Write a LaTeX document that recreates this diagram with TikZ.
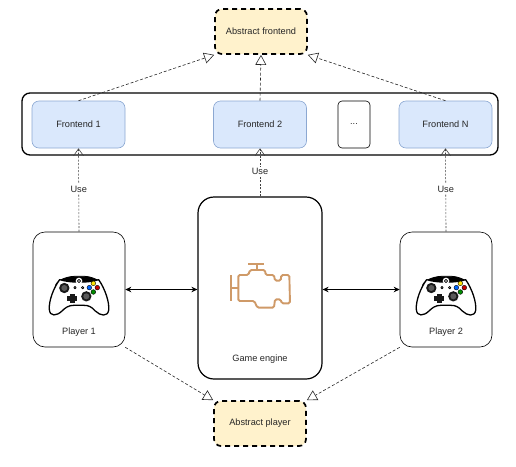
\documentclass[tikz,border=0pt]{standalone}
\usepackage{fontspec}
\setmainfont{Liberation Sans}
\usetikzlibrary{arrows.meta}
\tikzset{
  x=1pt,y=-1pt,
  every node/.style={font=\fontsize{9.2}{11}\selectfont,text=black!85,inner sep=0pt},
  boxbase/.style={rectangle,draw,minimum width=#1},
  frontbox/.style={boxbase=93pt,minimum height=47pt,rounded corners=7pt,fill=frontblue,draw=frontedge,line width=.6pt},
  abstractbox/.style={boxbase=92pt,minimum height=45pt,rounded corners=7pt,fill=abstractyellow,draw=black,line width=1.7pt,dash pattern=on 5pt off 4pt},
  playerbox/.style={boxbase=92pt,minimum height=115pt,rounded corners=12pt,fill=white,line width=.6pt},
  implements/.style={dash pattern=on 3pt off 2pt,line width=.6pt,draw=black!85,-{Triangle[open,fill=white,length=10pt,width=11pt]}},
  uses/.style={dash pattern=on 2pt off 1.5pt,line width=.6pt,draw=black!75,-{Straight Barb[length=7pt,width=10pt]}},
  biarrow/.style={line width=.9pt,{Stealth[length=6pt,width=5.5pt]}-{Stealth[length=6pt,width=5.5pt]}},
  uselabel/.style={fill=white,inner ysep=1.5pt,yshift=1pt},
  controller/.pic={
    \begin{scope}[shift={(-58.67,-71.67)},x=.3333pt,y=-.3333pt,line join=round]
      \fill[black,draw=black,line width=.8pt,rounded corners=4pt] (115,168) -- (150,156) -- (205,156) -- (240,170) -- (248,190) -- (100,190) -- cycle;
      \draw[fill=white,line width=1.3pt] (118,166) .. controls (150,176) and (205,176) .. (235,166)
        .. controls (255,195) and (268,235) .. (265,258)
        .. controls (262,278) and (240,275) .. (225,260)
        .. controls (213,247) and (205,243) .. (190,243)
        -- (160,243)
        .. controls (145,243) and (135,250) .. (125,260)
        .. controls (110,275) and (88,278) .. (87,255)
        .. controls (85,230) and (100,190) .. (118,166) -- cycle;
      \fill[white] (176,170) circle (10);
      \draw[black,line width=.8pt] (176,170) circle (5);
      \fill[black!90] (132,191) circle (15.5);
      \fill[black!65] (132,191) circle (9);
      \fill[black!90] (198,216) circle (15.5);
      \fill[black!65] (198,216) circle (9);
      \fill[black!90] (148,208) rectangle (163,236);
      \fill[black!90] (141,215) rectangle (170,229);
      \draw[line width=.8pt] (164,190) circle (3.5);
      \draw[line width=.8pt] (187,190) circle (3.5);
      \draw[black,line width=.4pt,fill=yellow!85!orange] (219,177) circle (7);
      \draw[black,line width=.4pt,fill=red!80!black] (231,190) circle (7);
      \draw[black,line width=.4pt,fill=green!55!black] (219,203) circle (7);
      \draw[black,line width=.4pt,fill=blue!60!cyan] (207,190) circle (7);
    \end{scope}
  }
}
\definecolor{frontblue}{HTML}{DAE8FC}
\definecolor{frontedge}{HTML}{8CA8D2}
\definecolor{abstractyellow}{HTML}{FFF2CC}
\definecolor{enginebrown}{HTML}{CF9A68}
\begin{document}
\begin{tikzpicture}
\useasboundingbox (0,0) rectangle (516,466);
\node[draw,rectangle,rounded corners=8pt,line width=1.3pt,minimum width=476pt,minimum height=62pt] (bar) at (260,124) {};
\node[abstractbox] (af) at (261,31.5) {};
\node at (af.center) (aft) {Abstract frontend};
\node[frontbox] (f1) at (78.5,124.5) {Frontend 1};
\node[frontbox] (f2) at (260,124.5) {Frontend 2};
\node[boxbase=32pt,minimum height=47pt,rounded corners=4pt,line width=.6pt] (dots) at (354,124.5) {...};
\node[frontbox] (fn) at (445.5,124.5) {Frontend N};
\node[playerbox] (p1) at (79,289.5) {};
\node[playerbox] (p2) at (446,289.5) {};
\node[rectangle,draw,minimum width=124pt,minimum height=182pt,rounded corners=16pt,line width=1.2pt] (ge) at (260,288) {};
\node (p1t) at (79,332) {Player 1};
\node (p2t) at (446,332) {Player 2};
\node (get) at (260,359.5) {Game engine};
\node[abstractbox] (ap) at (260,423.5) {};
\node at (ap.center) (apt) {Abstract player};
\pic at (79,296) {controller};
\pic at (446,296) {controller};
% engine icon
\begin{scope}[shift={(200,240)},x=.3333pt,y=-.3333pt,draw=enginebrown,line width=1.9pt,rounded corners=1.5pt]
  \draw (93,105) -- (93,183);
  \draw (93,143) -- (115,143);
  \draw (115,105) -- (145,105) -- (150,90) -- (195,90) -- (197,105) -- (222,105) -- (225,122) -- (242,122) -- (244,105) -- (268,105) -- (270,190) -- (245,190) -- (242,178) -- (225,178) -- (222,203) -- (172,203) -- (163,183) -- (115,183) -- cycle;
  \draw (145,72) -- (192,72);
  \draw (170,72) -- (170,90);
\end{scope}
\draw[implements] (f1.north) -- (af.south west);
\draw[implements] (f2.north) -- (af.south);
\draw[implements] (fn.north) -- (af.south east);
\draw[uses] (p1.north) -- node[uselabel] (u1) {Use} (f1.south);
\draw[uses] (ge.north) -- node[uselabel] (u2) {Use} (f2.south);
\draw[uses] (p2.north) -- node[uselabel] (u3) {Use} (fn.south);
\draw[biarrow] (p1.east) -- (ge.west |- p1.east);
\draw[biarrow] (p2.west) -- (ge.east |- p2.west);
\draw[implements] (p1.south east) -- (ap.north west);
\draw[implements] (p2.south west) -- (ap.north east);
\end{tikzpicture}
\end{document}
